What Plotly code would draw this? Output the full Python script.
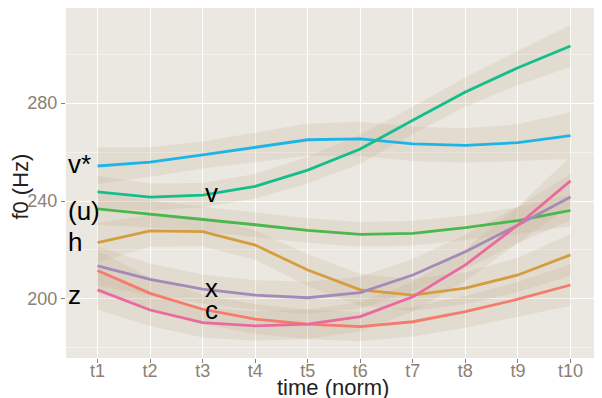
import plotly.graph_objects as go

ticks = ["t1", "t2", "t3", "t4", "t5", "t6", "t7", "t8", "t9", "t10"]
xpos = [1, 2, 3, 4, 5, 6, 7, 8, 9, 10]

# series (f0 in Hz)
v_star = [254.3, 255.9, 258.8, 262.0, 265.0, 265.4, 263.3, 262.7, 263.8, 266.7]
v      = [243.7, 241.6, 242.4, 246.0, 252.6, 261.2, 273.0, 284.5, 294.4, 303.3]
u      = [236.8, 234.7, 232.7, 230.3, 228.0, 226.4, 226.8, 229.1, 232.0, 236.2]
h      = [223.0, 227.8, 227.5, 222.0, 211.8, 203.7, 201.6, 204.4, 209.8, 218.0]
x_s    = [213.5, 208.0, 204.0, 201.6, 200.5, 202.6, 209.8, 219.3, 230.2, 241.6]
z      = [203.7, 195.5, 190.3, 189.0, 189.7, 192.8, 200.9, 213.9, 230.2, 248.2]
c      = [211.6, 202.3, 195.8, 191.8, 189.7, 188.7, 190.7, 194.8, 199.9, 205.7]

# confidence half-widths (Hz)
v_star_ci = [7.5, 6, 5.5, 6, 6.5, 7, 7, 7, 7.5, 9.5]
v_ci      = [6.5, 5.5, 5, 5, 5.5, 6, 5.5, 6, 7, 8.5]
u_ci      = [6.5, 5.5, 5, 5, 5, 5, 5, 5, 5.5, 6.5]
h_ci      = [8, 6.5, 6, 6, 6.5, 6.5, 6.5, 6.5, 7, 8.5]
x_ci      = [8, 6.5, 6, 6, 6.5, 6.5, 6.5, 7, 7.5, 9.5]
z_ci      = [8, 6.5, 6, 6, 6, 6, 6, 6.5, 7.5, 10]
c_ci      = [8, 6.5, 6, 6, 6, 6, 6, 6.5, 7, 8.5]

series = [
    ("v*", v_star, v_star_ci, "#1EB5E6"),
    ("v", v, v_ci, "#14BE8A"),
    ("(u)", u, u_ci, "#4BB74C"),
    ("h", h, h_ci, "#D59D40"),
    ("x", x_s, x_ci, "#A48AB9"),
    ("c", c, c_ci, "#F57B6C"),
    ("z", z, z_ci, "#E96A9E"),
]

# label positions (x in data units, y in Hz)
lab_text = ["v*", "v", "(u)", "h", "z", "x", "c"]
lab_x = [0.4, 3.0, 0.4, 0.4, 0.4, 3.0, 3.0]
lab_y = [255.0, 243.2, 235.8, 223.2, 201.6, 204.6, 195.3]

fig = go.Figure()

for name, ys, ci, col in series:
    up = [a + b for a, b in zip(ys, ci)]
    lo = [a - b for a, b in zip(ys, ci)]
    fig.add_trace(go.Scatter(
        x=xpos + xpos[::-1], y=up + lo[::-1], fill="toself",
        fillcolor="rgba(185,160,125,0.17)", line=dict(width=0),
        hoverinfo="skip", showlegend=False, mode="lines"))

for name, ys, ci, col in series:
    fig.add_trace(go.Scatter(x=xpos, y=ys, mode="lines",
                             line=dict(color=col, width=2.8), name=name,
                             showlegend=False))

for t, xx, yy in zip(lab_text, lab_x, lab_y):
    fig.add_annotation(x=xx, y=yy, xref="x", yref="y", text=t, showarrow=False,
                       xanchor="left", yanchor="middle",
                       font=dict(family="Liberation Sans", size=26, color="black"))

# axis titles
fig.add_annotation(x=0.498, y=-0.083, xref="paper", yref="paper", text="time (norm)",
                   showarrow=False, xanchor="center", yanchor="middle",
                   font=dict(family="Liberation Sans", size=22, color="#222222"))
fig.add_annotation(x=-0.085, y=0.491, xref="paper", yref="paper", text="f0 (Hz)",
                   showarrow=False, xanchor="center", yanchor="middle", textangle=-90,
                   font=dict(family="Liberation Sans", size=22, color="#222222"))

fig.update_layout(
    width=594, height=390,
    margin=dict(l=58, r=0, t=0, b=40),
    paper_bgcolor="white", plot_bgcolor="#EBE7E1",
    font=dict(family="Liberation Sans"),
    xaxis=dict(range=[0.4, 10.6], tickmode="array", tickvals=xpos, ticktext=ticks,
               showgrid=True, gridcolor="white", gridwidth=1.3, zeroline=False,
               ticks="outside", ticklen=4, tickcolor="#8C8074",
               tickfont=dict(size=18, color="#8C8074"), automargin=False,
               ticklabelstandoff=-8, showline=False),
    yaxis=dict(range=[175.9, 318.8], tickmode="array", tickvals=[200, 240, 280],
               showgrid=True, gridcolor="white", gridwidth=1.3, zeroline=False,
               ticks="outside", ticklen=4, tickcolor="#8C8074",
               tickfont=dict(size=18, color="#8C8074"), automargin=False,
               minor=dict(tickmode="array", tickvals=[180, 220, 260, 300], showgrid=True,
                          gridcolor="rgba(255,255,255,0.45)", gridwidth=0.8, ticks=""),
               showline=False),
)

fig.write_html("out.html")
